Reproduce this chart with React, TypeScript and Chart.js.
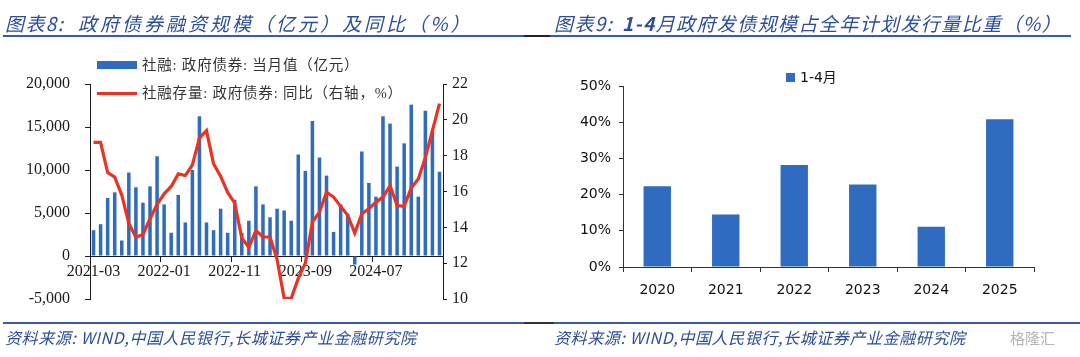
import React, { useEffect, useRef } from "react";
import { Chart, registerables } from "chart.js";

Chart.register(...registerables);

// ---------- Left chart data ----------
const months: string[] = [
  "2021-03", "2021-04", "2021-05", "2021-06", "2021-07", "2021-08", "2021-09", "2021-10", "2021-11", "2021-12",
  "2022-01", "2022-02", "2022-03", "2022-04", "2022-05", "2022-06", "2022-07", "2022-08", "2022-09", "2022-10",
  "2022-11", "2022-12", "2023-01", "2023-02", "2023-03", "2023-04", "2023-05", "2023-06", "2023-07", "2023-08",
  "2023-09", "2023-10", "2023-11", "2023-12", "2024-01", "2024-02", "2024-03", "2024-04", "2024-05", "2024-06",
  "2024-07", "2024-08", "2024-09", "2024-10", "2024-11", "2024-12", "2025-01", "2025-02", "2025-03", "2025-04",
];

// 社融: 政府债券: 当月值 (亿元)
const govBondMonthly: number[] = [
  3000, 3700, 6750, 7400, 1800, 9700, 8000, 6200, 8100, 11600,
  6000, 2700, 7100, 3900, 10000, 16250, 3900, 3000, 5500, 2700,
  6550, 2700, 4100, 8100, 6000, 4500, 5500, 5300, 4100, 11800,
  9900, 15700, 11450, 9350, 2800, 6000, 4900, -1000, 12150, 8500,
  6900, 16250, 15400, 10400, 13100, 17600, 6900, 16900, 14500, 9800,
];

// 社融存量: 政府债券: 同比 (%)
const govBondYoY: number[] = [
  18.74, 18.74, 17.06, 16.8, 15.8, 14.22, 13.45, 13.6, 14.48, 15.28,
  15.87, 16.28, 16.98, 16.89, 17.48, 18.98, 19.4, 17.54, 16.85, 15.95,
  15.35, 13.4, 12.88, 13.83, 13.46, 13.46, 12.2, 10.04, 10.04, 11.15,
  12.0, 14.3, 14.85, 15.96, 15.69, 15.17, 14.67, 13.68, 14.76, 15.04,
  15.41, 15.69, 16.33, 15.22, 15.17, 16.2, 16.7, 17.9, 19.39, 20.9,
];

const shownMonthLabels: string[] = ["2021-03", "2022-01", "2022-11", "2023-09", "2024-07"];

const barLegendLabel = "社融: 政府债券: 当月值（亿元）";
const lineLegendLabel = "社融存量: 政府债券: 同比（右轴，%）";

// ---------- Right chart data ----------
const years: string[] = ["2020", "2021", "2022", "2023", "2024", "2025"];
const janAprShare: number[] = [22.3, 14.5, 28.2, 22.8, 11.1, 40.8];
const rightLegendLabel = "1-4月";

const BLUE = "#2f6cc0";
const RED = "#ea3323";
const TITLE_BLUE = "#2b4d9c";
const AXIS = "#1a1a1a";

function LeftChart() {
  const ref = useRef<HTMLCanvasElement | null>(null);
  useEffect(() => {
    if (!ref.current) return;
    const font = { family: "'Liberation Serif', 'Times New Roman', serif", size: 16 };
    const chart = new Chart(ref.current, {
      type: "bar",
      data: {
        labels: months,
        datasets: [
          {
            type: "line",
            label: lineLegendLabel,
            data: govBondYoY,
            yAxisID: "y1",
            borderColor: RED,
            borderWidth: 3.2,
            pointRadius: 0,
            tension: 0,
            order: 0,
          } as any,
          {
            type: "bar",
            label: barLegendLabel,
            data: govBondMonthly,
            yAxisID: "y",
            backgroundColor: BLUE,
            barPercentage: 0.5,
            categoryPercentage: 1,
            order: 1,
          },
        ],
      },
      options: {
        responsive: false,
        animation: false,
        layout: { padding: { left: 0, right: 0, top: 84, bottom: 58 } },
        plugins: { legend: { display: false }, tooltip: { enabled: false } },
        scales: {
          x: {
            position: { y: 0 } as any,
            grid: {
              display: true,
              drawOnChartArea: false,
              offset: true,
              tickLength: 5,
              tickColor: (ctx: any) =>
                ctx.index !== undefined && shownMonthLabels.includes(months[ctx.index]) ? AXIS : "rgba(0,0,0,0)",
            },
            border: { display: true, color: AXIS, width: 1 },
            ticks: {
              autoSkip: false,
              maxRotation: 0,
              minRotation: 0,
              padding: 1,
              color: AXIS,
              font,
              callback: (_v: any, i: number) => (shownMonthLabels.includes(months[i]) ? months[i] : ""),
            },
          },
          y: {
            position: "left",
            min: -5000,
            max: 20000,
            afterFit: (s: any) => {
              s.width = 90;
            },
            grid: { drawOnChartArea: false, tickLength: 5, tickColor: AXIS },
            border: { color: AXIS, width: 1 },
            ticks: {
              stepSize: 5000,
              padding: 15,
              color: AXIS,
              font,
              callback: (v: any) => Number(v).toLocaleString("en-US"),
            },
          },
          y1: {
            position: "right",
            min: 10,
            max: 22,
            afterFit: (s: any) => {
              s.width = 97;
            },
            grid: { drawOnChartArea: false, tickLength: 4, tickColor: AXIS },
            border: { color: AXIS, width: 1 },
            ticks: { stepSize: 2, padding: 5, color: AXIS, font },
          },
        },
      },
    });
    return () => chart.destroy();
  }, []);
  return (
    <canvas
      ref={ref}
      width={540}
      height={357}
      style={{ position: "absolute", left: 0, top: 0, width: 540, height: 357 }}
    />
  );
}

function RightChart() {
  const ref = useRef<HTMLCanvasElement | null>(null);
  useEffect(() => {
    if (!ref.current) return;
    const font = { family: "'DejaVu Sans', Verdana, sans-serif", size: 14 };
    const chart = new Chart(ref.current, {
      type: "bar",
      data: {
        labels: years,
        datasets: [
          {
            label: rightLegendLabel,
            data: janAprShare,
            backgroundColor: BLUE,
            barPercentage: 0.4,
            categoryPercentage: 1,
          },
        ],
      },
      options: {
        responsive: false,
        animation: false,
        layout: { padding: { left: 0, right: 46, top: 86, bottom: 50 } },
        plugins: { legend: { display: false }, tooltip: { enabled: false } },
        scales: {
          x: {
            afterFit: (s: any) => {
              s.height = 40;
            },
            grid: { display: true, drawOnChartArea: false, offset: true, tickLength: 5, tickColor: "#333" },
            border: { color: "#333", width: 1 },
            ticks: { padding: 10, color: "#111", font },
          },
          y: {
            min: 0,
            max: 50,
            afterFit: (s: any) => {
              s.width = 83;
            },
            grid: { drawOnChartArea: false, tickLength: 4, tickColor: "#333" },
            border: { color: "#333", width: 1 },
            ticks: { stepSize: 10, padding: 8, color: "#111", font, callback: (v: any) => v + "%" },
          },
        },
      },
    });
    return () => chart.destroy();
  }, []);
  return (
    <canvas
      ref={ref}
      width={540}
      height={357}
      style={{ position: "absolute", left: 540, top: 0, width: 540, height: 357 }}
    />
  );
}

const titleStyle: React.CSSProperties = {
  position: "absolute",
  top: 10,
  fontFamily: "'Noto Sans CJK SC', 'DejaVu Sans', sans-serif",
  fontStyle: "italic",
  fontSize: 19,
  letterSpacing: 1.4,
  color: TITLE_BLUE,
  whiteSpace: "nowrap",
  lineHeight: "26px",
};

const sourceStyle: React.CSSProperties = {
  position: "absolute",
  top: 327,
  fontFamily: "'Noto Sans CJK SC', 'DejaVu Sans', sans-serif",
  fontStyle: "italic",
  fontSize: 16,
  letterSpacing: 0.6,
  color: TITLE_BLUE,
  whiteSpace: "nowrap",
  lineHeight: "20px",
};

const legendText: React.CSSProperties = {
  position: "absolute",
  fontFamily: "'Liberation Serif', 'Noto Sans CJK SC', serif",
  fontSize: 14.5,
  letterSpacing: 0.8,
  color: "#333",
  whiteSpace: "nowrap",
  lineHeight: "18px",
};

export default function App() {
  return (
    <div
      style={{
        position: "absolute",
        left: 0,
        top: 0,
        width: 1080,
        height: 357,
        background: "#fff",
        overflow: "hidden",
      }}
    >
      <LeftChart />
      <RightChart />

      {/* titles */}
      <div style={{ ...titleStyle, left: 5 }}>图表8:</div>
      <div style={{ ...titleStyle, left: 78, letterSpacing: 3 }}>政府债券融资规模（亿元）及同比（%）</div>
      <div style={{ ...titleStyle, left: 554 }}>图表9:</div>
      <div style={{ ...titleStyle, left: 622 }}>
        <b>1-4</b>月政府发债规模占全年计划发行量比重（%）
      </div>

      {/* title underline */}
      <div style={{ position: "absolute", left: 3, top: 35, width: 521, height: 2, background: "#3a5ca8" }} />
      <div style={{ position: "absolute", left: 524, top: 35, width: 26, height: 2, background: "#222" }} />
      <div style={{ position: "absolute", left: 550, top: 35, width: 521, height: 2, background: "#3a5ca8" }} />

      {/* left legend */}
      <div style={{ position: "absolute", left: 97, top: 61, width: 40, height: 8, background: BLUE }} />
      <div style={{ ...legendText, left: 142, top: 56 }}>{barLegendLabel}</div>
      <div style={{ position: "absolute", left: 97, top: 92, width: 40, height: 3, background: RED }} />
      <div style={{ ...legendText, left: 142, top: 84 }}>{lineLegendLabel}</div>

      {/* right legend */}
      <div style={{ position: "absolute", left: 786, top: 73, width: 9, height: 9, background: BLUE }} />
      <div
        style={{
          position: "absolute",
          left: 800,
          top: 68,
          fontFamily: "'DejaVu Sans', 'Noto Sans CJK SC', sans-serif",
          fontSize: 14,
          color: "#111",
          lineHeight: "18px",
          whiteSpace: "nowrap",
        }}
      >
        {rightLegendLabel}
      </div>

      {/* bottom rule */}
      <div style={{ position: "absolute", left: 3, top: 322, width: 521, height: 2, background: "#3a5ca8" }} />
      <div style={{ position: "absolute", left: 524, top: 322, width: 30, height: 2, background: "#333" }} />
      <div style={{ position: "absolute", left: 554, top: 322, width: 526, height: 2, background: "#3a5ca8" }} />

      {/* sources */}
      <div style={{ ...sourceStyle, left: 5 }}>资料来源: WIND,中国人民银行,长城证券产业金融研究院</div>
      <div style={{ ...sourceStyle, left: 554 }}>资料来源: WIND,中国人民银行,长城证券产业金融研究院</div>

      {/* watermark */}
      <div
        style={{
          position: "absolute",
          left: 1010,
          top: 328,
          fontFamily: "'Noto Sans CJK SC', sans-serif",
          fontSize: 15,
          color: "#b5b5b5",
          whiteSpace: "nowrap",
          lineHeight: "20px",
        }}
      >
        格隆汇
      </div>
    </div>
  );
}
